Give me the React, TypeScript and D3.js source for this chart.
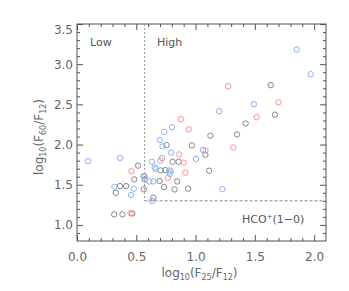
import React, { useEffect, useRef } from 'react';
import * as d3 from 'd3';

// points: [log10(F25/F12), log10(F60/F12)]
const greyPoints: [number, number][] = [
  [0.314, 1.131], [0.384, 1.131], [0.466, 1.143], [0.327, 1.4], [0.362, 1.483],
  [0.414, 1.483], [0.483, 1.566], [0.515, 1.738], [0.568, 1.603], [0.572, 1.566],
  [0.563, 1.444], [0.644, 1.338], [0.697, 1.547], [0.735, 1.47], [0.705, 1.678],
  [0.745, 1.682], [0.755, 1.993], [0.806, 1.786], [0.857, 1.786], [0.823, 1.442],
  [0.845, 1.541], [0.938, 1.451], [0.969, 1.989], [1.083, 1.873], [1.114, 1.675],
  [1.125, 2.111], [1.349, 2.126], [1.422, 2.262], [1.634, 2.739], [1.67, 2.372],
];
const redPoints: [number, number][] = [
  [0.459, 1.669], [0.451, 1.147], [0.717, 1.831], [0.766, 1.585], [0.876, 2.316],
  [0.943, 2.19], [0.861, 1.877], [0.899, 1.774], [0.914, 1.649], [1.084, 1.927],
  [1.275, 2.726], [1.319, 1.964], [1.515, 2.34], [1.699, 2.526],
];
const bluePoints: [number, number][] = [
  [0.093, 1.794], [0.363, 1.833], [0.316, 1.473], [0.479, 1.45], [0.456, 1.373],
  [0.561, 1.606], [0.633, 1.786], [0.656, 1.715], [0.665, 1.697], [0.61, 1.541],
  [0.644, 1.541], [0.633, 1.299], [0.698, 2.055], [0.721, 1.976], [0.736, 2.159],
  [0.802, 2.215], [0.703, 1.799], [0.794, 1.899], [0.779, 1.678], [0.791, 1.665],
  [0.783, 1.634], [1.003, 1.821], [1.062, 1.933], [1.199, 2.415], [1.226, 1.445],
  [1.492, 2.502], [1.853, 3.183], [1.971, 2.876],
];

const xTicks = [0, 0.5, 1.0, 1.5, 2.0];
const yTicks = [1.0, 1.5, 2.0, 2.5, 3.0, 3.5];
// dashed divider: Low/High at x, threshold at y
const divX = 0.57;
const divY = 1.3;

const App = () => {
  const ref = useRef<SVGSVGElement>(null);
  const margin = { top: 24, right: 23, bottom: 50, left: 77 };
  const W = 349, H = 291;
  const width = W - margin.left - margin.right;
  const height = H - margin.top - margin.bottom;
  const axisColor = '#555';
  const textColor = '#666';
  const font = 'DejaVu Sans, sans-serif';

  useEffect(() => {
    const svg = d3.select(ref.current);
    svg.selectAll('*').remove();

    const x = d3.scaleLinear().domain([0, 2.1]).range([0, width]);
    const y = d3.scaleLinear().domain([0.8, 3.5]).range([height, 0]);

    const g = svg.append('g').attr('transform', `translate(${margin.left},${margin.top})`);

    const xMinor = d3.range(1, 21).map(d => d / 10).filter(d => !xTicks.some(t => Math.abs(t - d) < 1e-6));
    const yMinor = d3.range(9, 35).map(d => d / 10).filter(d => !yTicks.some(t => Math.abs(t - d) < 1e-6));

    const styleAxis = (sel: any) => {
      sel.select('.domain').remove();
      sel.selectAll('line').attr('stroke', axisColor);
      sel.selectAll('text').attr('fill', textColor).style('font-family', font).style('font-size', '12px');
    };

    // bottom
    g.append('g').attr('transform', `translate(0,${height})`)
      .call(d3.axisBottom(x).tickValues(xTicks).tickSize(-6).tickPadding(11).tickFormat(d3.format('.1f')))
      .call(styleAxis);
    g.append('g').attr('transform', `translate(0,${height})`)
      .call(d3.axisBottom(x).tickValues(xMinor).tickSize(-3).tickFormat(() => ''))
      .call(styleAxis);
    // top
    g.append('g')
      .call(d3.axisTop(x).tickValues(xTicks).tickSize(-6).tickFormat(() => ''))
      .call(styleAxis);
    g.append('g')
      .call(d3.axisTop(x).tickValues(xMinor).tickSize(-3).tickFormat(() => ''))
      .call(styleAxis);
    // left
    const yl = g.append('g')
      .call(d3.axisLeft(y).tickValues(yTicks).tickSize(-6).tickPadding(4).tickFormat(d3.format('.1f')))
      .call(styleAxis);
    yl.selectAll('text').filter((d: any) => d === 3.5).attr('dy', '0.75em');
    g.append('g')
      .call(d3.axisLeft(y).tickValues(yMinor).tickSize(-3).tickFormat(() => ''))
      .call(styleAxis);
    // right
    g.append('g').attr('transform', `translate(${width},0)`)
      .call(d3.axisRight(y).tickValues(yTicks).tickSize(-6).tickFormat(() => ''))
      .call(styleAxis);
    g.append('g').attr('transform', `translate(${width},0)`)
      .call(d3.axisRight(y).tickValues(yMinor).tickSize(-3).tickFormat(() => ''))
      .call(styleAxis);

    g.append('rect')
      .attr('width', width).attr('height', height)
      .attr('fill', 'none').attr('stroke', axisColor).attr('stroke-width', 1);

    // divider lines
    g.append('line')
      .attr('x1', x(divX)).attr('x2', x(divX))
      .attr('y1', 0).attr('y2', y(divY))
      .attr('stroke', '#999').attr('stroke-dasharray', '2,2');
    g.append('line')
      .attr('x1', x(divX)).attr('x2', width)
      .attr('y1', y(divY)).attr('y2', y(divY))
      .attr('stroke', '#888').attr('stroke-dasharray', '3,2');

    const groups: [[number, number][], string][] = [
      [greyPoints, '#858585'],
      [redPoints, '#ff8f8f'],
      [bluePoints, '#8ab2fb'],
    ];
    groups.forEach(([pts, col]) => {
      g.append('g').selectAll('circle')
        .data(pts)
        .enter().append('circle')
        .attr('cx', d => x(d[0]))
        .attr('cy', d => y(d[1]))
        .attr('r', 2.7)
        .attr('fill', 'none')
        .attr('stroke', col)
        .attr('stroke-width', 1);
    });

    const label = (tx: number, ty: number, txt: string) =>
      g.append('text').attr('x', tx).attr('y', ty)
        .attr('fill', '#555').style('font-family', font).style('font-size', '11px')
        .text(txt);
    label(13, 22, 'Low');
    label(80, 22, 'High');
    const hco = label(165, 199, 'HCO');
    hco.append('tspan').attr('dy', -4).style('font-size', '7px').text('+');
    hco.append('tspan').attr('dy', 4).text('(1\u22120)');

    // axis titles
    const title = (sel: any, a: string, b: string) => {
      sel.attr('fill', textColor).style('font-family', font).style('font-size', '12px')
        .attr('text-anchor', 'middle');
      sel.append('tspan').text('log');
      sel.append('tspan').attr('dy', 3).style('font-size', '8px').text('10');
      sel.append('tspan').attr('dy', -3).text('(F');
      sel.append('tspan').attr('dy', 3).style('font-size', '8px').text(a);
      sel.append('tspan').attr('dy', -3).text('/F');
      sel.append('tspan').attr('dy', 3).style('font-size', '8px').text(b);
      sel.append('tspan').attr('dy', -3).text(')');
    };
    title(svg.append('text').attr('x', margin.left + width / 2 - 2).attr('y', 277), '25', '12');
    title(svg.append('text').attr('transform', 'translate(43,137) rotate(-90)'), '60', '12');
  }, []);

  return (
    <svg ref={ref} width={W} height={H}
      style={{ position: 'absolute', left: 0, top: 0, background: '#fff' }} />
  );
};

export default App;
